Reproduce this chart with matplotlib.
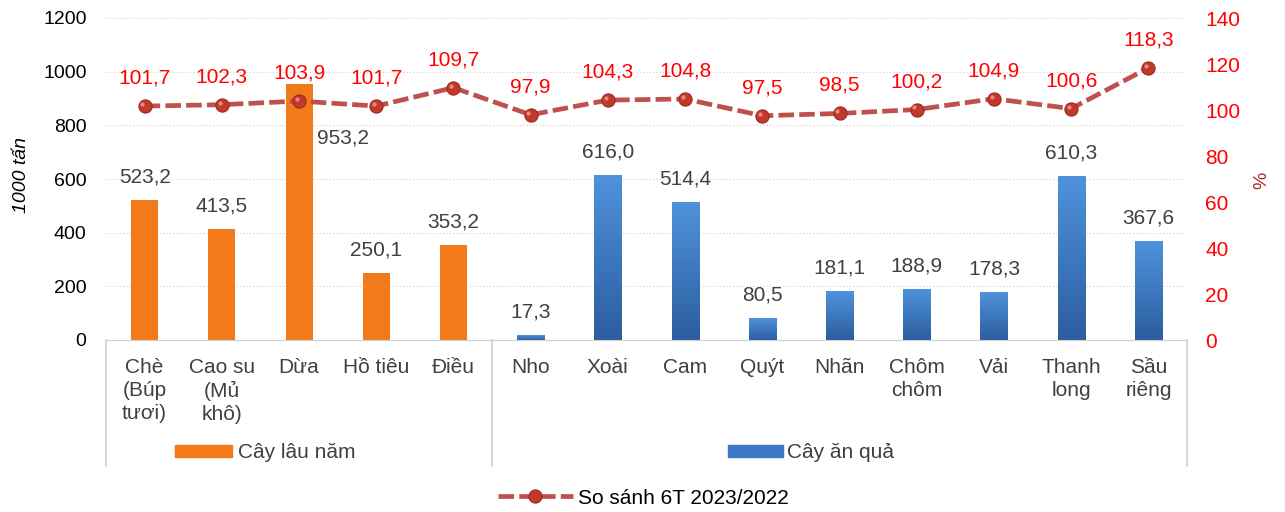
import numpy as np
import matplotlib
matplotlib.use("Agg")
import matplotlib.pyplot as plt
from matplotlib.lines import Line2D
from matplotlib.patches import Rectangle
from matplotlib.colors import LinearSegmentedColormap

plt.rcParams["font.family"] = ["Liberation Sans", "DejaVu Sans"]

categories = ["Chè\n(Búp\ntươi)", "Cao su\n(Mủ\nkhô)", "Dừa", "Hồ tiêu", "Điều",
              "Nho", "Xoài", "Cam", "Quýt", "Nhãn", "Chôm\nchôm", "Vải",
              "Thanh\nlong", "Sầu\nriêng"]
output_kt = [523.2, 413.5, 953.2, 250.1, 353.2,
             17.3, 616.0, 514.4, 80.5, 181.1, 188.9, 178.3, 610.3, 367.6]
ratio_pct = [101.7, 102.3, 103.9, 101.7, 109.7,
             97.9, 104.3, 104.8, 97.5, 98.5, 100.2, 104.9, 100.6, 118.3]
group_names = ["Cây lâu năm", "Cây ăn quả"]
group_sizes = [5, 9]
line_name = "So sánh 6T 2023/2022"

ORANGE = "#F27A1A"
BLUE_TOP = "#4F93DC"
BLUE_BOT = "#2C5D9F"
LINE_RED = "#C0504D"
LABEL_RED = "#FF0000"
GREY_TXT = "#404040"
FRAME = "#D0D0D0"
FS = 15

W, H = 1285, 512
fig = plt.figure(figsize=(W / 100, H / 100), dpi=100)
ax = fig.add_axes([106 / W, 1 - 340 / H, (1187 - 106) / W, (340 - 18) / H])

def fmt(v):
    return f"{v:.1f}".replace(".", ",")

x = np.arange(len(categories))
bw = 0.35
n1 = group_sizes[0]

# perennial crops: flat orange bars; fruit crops: blue gradient bars
bars = ax.bar(x, output_kt, width=bw, color=ORANGE, zorder=2)
blue_cmap = LinearSegmentedColormap.from_list("blue_grad", [BLUE_BOT, BLUE_TOP])
grad = np.linspace(0, 1, 256).reshape(-1, 1)
for i, b in enumerate(bars):
    if i >= n1:
        b.set_facecolor("none")
        x0, w, h = b.get_x(), b.get_width(), b.get_height()
        im = ax.imshow(grad, cmap=blue_cmap, origin="lower", aspect="auto",
                       extent=[x0, x0 + w, 0, h], zorder=2)
        im.set_clip_path(b)

ax.set_xlim(-0.5, len(categories) - 0.5)
ax.set_ylim(0, 1200)
ax.set_yticks(np.arange(0, 1201, 200))
ax.tick_params(axis="y", length=0, labelsize=14, colors="#000000", pad=14)
ax.grid(axis="y", color="#D0D0D0", linestyle=(0, (1, 2)), linewidth=0.8, zorder=0)
ax.set_axisbelow(True)
for s in ["top", "left", "right"]:
    ax.spines[s].set_visible(False)
ax.spines["bottom"].set_color(FRAME)
fig.text(21 / W, 1 - 175 / H, "1000 tấn", fontsize=14, style="italic",
         rotation=90, ha="center", va="center")

ax.set_xticks(x)
ax.set_xticklabels(categories, fontsize=FS, color=GREY_TXT, linespacing=1.25)
ax.tick_params(axis="x", length=0, pad=13)

# bar value labels
for i, v in enumerate(output_kt):
    if i == 2:
        ax.annotate(fmt(v), (x[i], v), xytext=(44, -54), textcoords="offset pixels",
                    ha="center", va="center", fontsize=FS, color=GREY_TXT)
    else:
        ax.annotate(fmt(v), (x[i], v), xytext=(0, 23), textcoords="offset pixels",
                    ha="center", va="center", fontsize=FS, color=GREY_TXT)

# group frame below the axis
trans = ax.get_xaxis_transform()
yb = -(466 - 340) / 322
for xb in [-0.5, n1 - 0.5, len(categories) - 0.5]:
    ax.add_line(Line2D([xb, xb], [0, yb], transform=trans, color=FRAME,
                       linewidth=1.2, clip_on=False))

# group labels with colour keys
ty = 1 - 453 / H
fig.patches.append(Rectangle((175 / W, 1 - 457 / H), 57 / W, 12 / H,
                             transform=fig.transFigure, color=ORANGE))
fig.text(238 / W, ty, group_names[0], fontsize=FS, color=GREY_TXT, va="center")
fig.patches.append(Rectangle((728 / W, 1 - 457 / H), 55 / W, 12 / H,
                             transform=fig.transFigure, color="#3C78C3"))
fig.text(787 / W, ty, group_names[1], fontsize=FS, color=GREY_TXT, va="center")

# growth ratio on the secondary axis
ax2 = ax.twinx()
ax2.set_ylim(0, 140)
ax2.set_yticks(np.arange(0, 141, 20))
ax2.tick_params(axis="y", length=0, labelsize=FS, colors=LABEL_RED, pad=13)
for s in ax2.spines.values():
    s.set_visible(False)
fig.text(1262 / W, 1 - 180 / H, "%", fontsize=14, color="#B22222",
         rotation=90, ha="center", va="center")

line, = ax2.plot(x, ratio_pct, color=LINE_RED, linewidth=3.4,
                 dashes=(3.3, 1.1), marker="o", markersize=9.5,
                 markerfacecolor="#C0392B", markeredgecolor="#9E2A22",
                 markeredgewidth=0.8, zorder=4, label=line_name)
ax2.plot(x - 0.03, np.array(ratio_pct) + 0.9, linestyle="none", marker="o",
         markersize=3, markerfacecolor="#E98A80", markeredgewidth=0, zorder=5)
for i, v in enumerate(ratio_pct):
    ax2.annotate(fmt(v), (x[i], v), xytext=(0, 28), textcoords="offset pixels",
                 ha="center", va="center", fontsize=FS, color=LABEL_RED)

fig.legend(handles=[line], loc="center", bbox_to_anchor=(643 / W, 1 - 498 / H),
           frameon=False, fontsize=FS, handlelength=3.6, handletextpad=0.25)

fig.savefig("out.png", dpi=100)
